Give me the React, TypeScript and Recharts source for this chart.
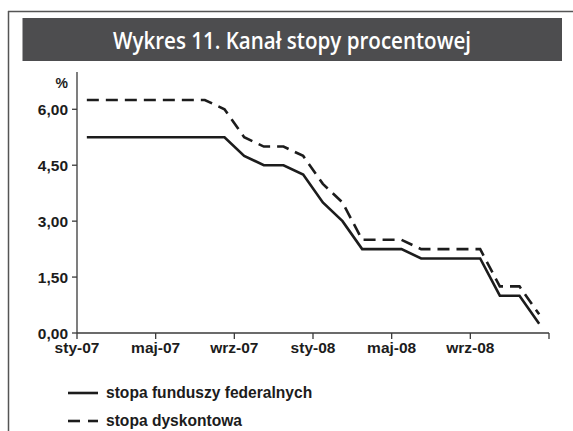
import React from 'react';
import { LineChart, Line, XAxis, YAxis } from 'recharts';

const months = [
  'sty-07','lut-07','mar-07','kwi-07','maj-07','cze-07','lip-07','sie-07','wrz-07','paź-07','lis-07','gru-07',
  'sty-08','lut-08','mar-08','kwi-08','maj-08','cze-08','lip-08','sie-08','wrz-08','paź-08','lis-08','gru-08',
];
const fedFunds = [5.25,5.25,5.25,5.25,5.25,5.25,5.25,5.25,4.75,4.5,4.5,4.25,3.5,3.0,2.25,2.25,2.25,2.0,2.0,2.0,2.0,1.0,1.0,0.25];
const discount = [6.25,6.25,6.25,6.25,6.25,6.25,6.25,6.0,5.25,5.0,5.0,4.75,4.0,3.5,2.5,2.5,2.5,2.25,2.25,2.25,2.25,1.25,1.25,0.5];
const xTickLabels = ['sty-07','maj-07','wrz-07','sty-08','maj-08','wrz-08',''];
const yTicks = [0, 1.5, 3, 4.5, 6];
const seriesNames = ['stopa funduszy federalnych', 'stopa dyskontowa'];
const title = 'Wykres 11. Kanał stopy procentowej';

const data = months.map((m, i) => ({ m, x: i + 0.5, fed: fedFunds[i], disc: discount[i] }));
const xTicks = xTickLabels.map((_, i) => i * 4);

const LABEL_FONT = '"Liberation Sans", Arial, sans-serif';
const INK = '#1c1c1c';
const AXIS = '#3a3a3a';

export default function App() {
  return (
    <div style={{ position: 'absolute', left: 0, top: 0, width: 573, height: 431, background: '#fff', overflow: 'hidden' }}>
      <div style={{ position: 'absolute', left: 0, top: 0 }}>
        <LineChart width={573} height={431} data={data} margin={{ top: 72, right: 24, left: 0, bottom: 0 }}>
          <XAxis
            dataKey="x"
            type="number"
            domain={[0, 24]}
            ticks={xTicks}
            tickFormatter={(v: number) => xTickLabels[Math.round(v / 4)] ?? ''}
            height={98}
            tickSize={6}
            tickMargin={3}
            stroke={AXIS}
            strokeWidth={1.3}
            tick={{ fill: INK, fontFamily: LABEL_FONT, fontWeight: 700, fontSize: 15.5 }}
            interval={0}
          />
          <YAxis
            type="number"
            domain={[0, 7]}
            ticks={yTicks}
            tickFormatter={(v: number) => v.toFixed(2).replace('.', ',')}
            width={77}
            tickSize={5}
            tickMargin={4}
            stroke={AXIS}
            strokeWidth={1.3}
            tick={{ fill: INK, fontFamily: LABEL_FONT, fontWeight: 700, fontSize: 15.5 }}
            interval={0}
          />
          <Line dataKey="fed" type="linear" stroke={INK} strokeWidth={2.6} dot={false} isAnimationActive={false} />
          <Line dataKey="disc" type="linear" stroke={INK} strokeWidth={2.6} strokeDasharray="12 7" dot={false} isAnimationActive={false} />
        </LineChart>
      </div>
      <svg width={573} height={431} style={{ position: 'absolute', left: 0, top: 0, pointerEvents: 'none' }}>
        <line x1={8} y1={11.5} x2={573} y2={11.5} stroke="#555" strokeWidth={1.5} />
        <line x1={8.5} y1={11} x2={8.5} y2={431} stroke="#555" strokeWidth={1.5} />
        <rect x={22.5} y={18} width={539.5} height={43} fill="#4d4d4f" />
        <text x={292} y={48.5} textAnchor="middle" fill="#fff" fontFamily='"Open Sans", "Noto Sans", sans-serif' fontWeight={600} fontSize={24} textLength={358} lengthAdjust="spacingAndGlyphs">{title}</text>
        <text x={68} y={88} textAnchor="end" fill={INK} fontFamily={LABEL_FONT} fontWeight={700} fontSize={14}>%</text>
        <line x1={68} y1={393} x2={98} y2={393} stroke={INK} strokeWidth={2.6} />
        <text x={106} y={398} fill={INK} fontFamily={LABEL_FONT} fontWeight={700} fontSize={15.6}>{seriesNames[0]}</text>
        <line x1={68} y1={421} x2={80} y2={421} stroke={INK} strokeWidth={2.6} />
        <line x1={88} y1={421} x2={98} y2={421} stroke={INK} strokeWidth={2.6} />
        <text x={106} y={426} fill={INK} fontFamily={LABEL_FONT} fontWeight={700} fontSize={15.6}>{seriesNames[1]}</text>
      </svg>
    </div>
  );
}
